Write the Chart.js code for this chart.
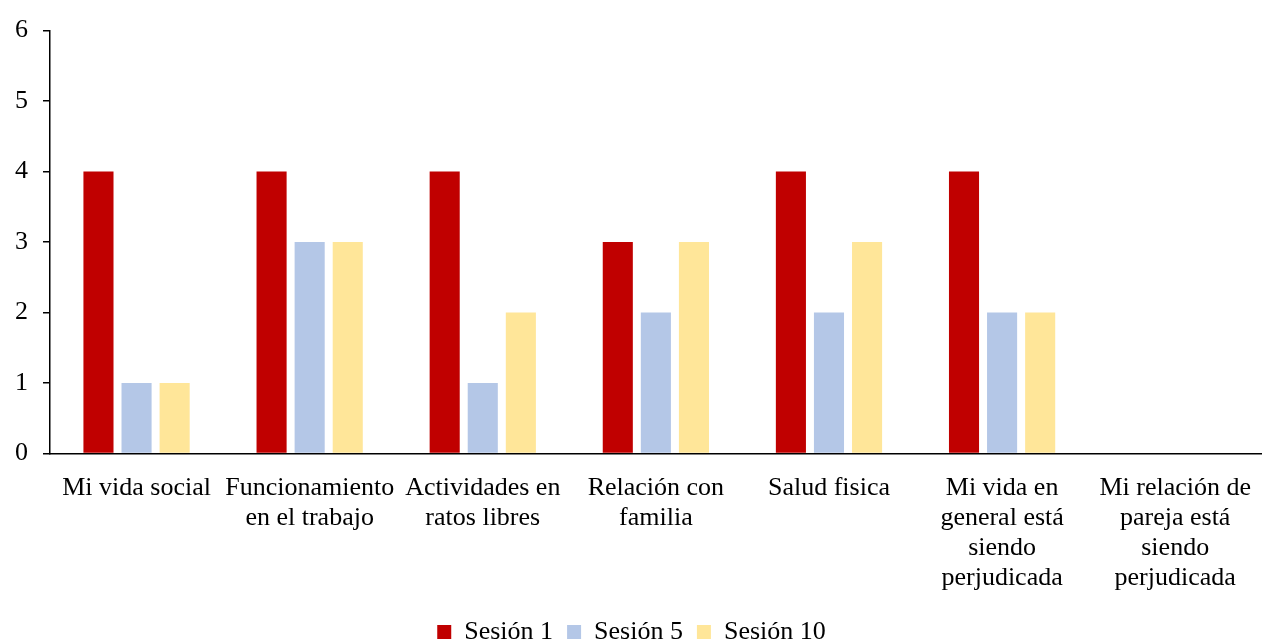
<!DOCTYPE html>
<html>
<head>
<meta charset="utf-8">
<script src="https://cdn.jsdelivr.net/npm/chart.js@4"></script>
<style>
  html, body { margin: 0; padding: 0; background: #fff; }
  #wrap { width: 1263px; height: 643px; }
</style>
</head>
<body>
<div id="wrap"><canvas id="chart"></canvas></div>
<script>
const categories = [
    'Mi vida social',
    ['Funcionamiento', 'en el trabajo'],
    ['Actividades en', 'ratos libres'],
    ['Relación con', 'familia'],
    'Salud fisica',
    ['Mi vida en', 'general está', 'siendo', 'perjudicada'],
    ['Mi relación de', 'pareja está', 'siendo', 'perjudicada']
];
const seriesNames = ['Sesión 1', 'Sesión 5', 'Sesión 10'];
const sesion1 = [4, 4, 4, 3, 4, 4, 0];
const sesion5 = [1, 3, 1, 2, 2, 2, 0];
const sesion10 = [1, 3, 2, 3, 3, 2, 0];
const yTicks = [0, 1, 2, 3, 4, 5, 6];

const colours = ['#C00000', '#B4C7E7', '#FFE699'];
const serif = "'Liberation Serif', 'Times New Roman', serif";

const ctx = document.getElementById('chart').getContext('2d');
new Chart(ctx, {
    type: 'bar',
    data: {
        labels: categories,
        datasets: [sesion1, sesion5, sesion10].map((d, i) => ({
            label: seriesNames[i],
            data: d,
            backgroundColor: colours[i],
            borderWidth: 0,
            categoryPercentage: 0.66,
            barPercentage: 0.79
        }))
    },
    options: {
        responsive: true,
        maintainAspectRatio: false,
        animation: false,
        // legend sits close to the bottom edge, like the original
        layout: { padding: { top: 8, left: 0, right: 0, bottom: -12 } },
        plugins: {
            tooltip: { enabled: false },
            legend: {
                position: 'bottom',
                labels: {
                    color: '#000',
                    font: { family: serif, size: 26, lineHeight: 1.15 },
                    boxWidth: 14,
                    boxHeight: 14,
                    padding: 14
                }
            }
        },
        scales: {
            x: {
                grid: { display: false },
                border: { display: true, color: '#000', width: 1.5 },
                ticks: {
                    color: '#000',
                    maxRotation: 0,
                    autoSkip: false,
                    padding: 12,
                    font: { family: serif, size: 26, lineHeight: 1.15 }
                }
            },
            y: {
                min: 0,
                max: 6,
                afterBuildTicks: axis => { axis.ticks = yTicks.map(v => ({ value: v })); },
                grid: {
                    drawOnChartArea: false,
                    drawTicks: true,
                    tickLength: 7,
                    color: '#000',
                    lineWidth: 1.5
                },
                border: { display: true, color: '#000', width: 1.5 },
                ticks: {
                    color: '#000',
                    padding: 15,
                    font: { family: serif, size: 26 }
                }
            }
        }
    }
});
</script>
</body>
</html>
